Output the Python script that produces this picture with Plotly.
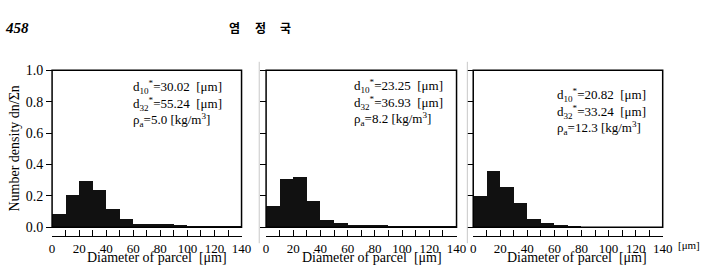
import plotly.graph_objects as go

W, H = 710, 272

bin_centers = [5, 15, 25, 35, 45, 55, 65, 75, 85, 95, 105, 115, 125, 135]
density_rho5 = [0.082, 0.204, 0.292, 0.235, 0.112, 0.047, 0.020, 0.018, 0.015, 0.006, 0.005, 0.005, 0.005, 0.005]
density_rho8 = [0.130, 0.306, 0.318, 0.164, 0.046, 0.022, 0.009, 0.008, 0.006, 0.003, 0.002, 0.001, 0.001, 0.001]
density_rho12 = [0.196, 0.356, 0.252, 0.150, 0.052, 0.022, 0.008, 0.002, 0.0, 0.0, 0.0, 0.0, 0.0, 0.0]

x_tickvals = [0, 20, 40, 60, 80, 100, 120, 140]
x_ticktext = ["0", "20", "40", "60", "80", "100", "120", "140"]
y_tickvals = [0.0, 0.2, 0.4, 0.6, 0.8, 1.0]
y_ticktext = ["0.0", "0.2", "0.4", "0.6", "0.8", "1.0"]

info_lines = [
    ["d<sub>10</sub><sup>*</sup>=30.02  [μm]", "d<sub>32</sub><sup>*</sup>=55.24  [μm]", "ρ<sub>a</sub>=5.0 [kg/m<sup>3</sup>]"],
    ["d<sub>10</sub><sup>*</sup>=23.25  [μm]", "d<sub>32</sub><sup>*</sup>=36.93  [μm]", "ρ<sub>a</sub>=8.2 [kg/m<sup>3</sup>]"],
    ["d<sub>10</sub><sup>*</sup>=20.82  [μm]", "d<sub>32</sub><sup>*</sup>=33.24  [μm]", "ρ<sub>a</sub>=12.3 [kg/m<sup>3</sup>]"],
]
x_title = "Diameter of parcel  [μm]"
y_title = "Number density dn/Σn"
header_page = "458"
header_author = ["염", "정", "국"]

SERIF = "Liberation Serif"

def px(x):
    return x / W

def py(y):
    return 1 - y / H

panels = [
    dict(left=50, right=243, data=density_rho5, text_x=130, text_y=[85, 103, 120], title_x=157),
    dict(left=268, right=462, data=density_rho8, text_x=355, text_y=[84, 102, 119], title_x=376),
    dict(left=479, right=672, data=density_rho12, text_x=562, text_y=[93, 111, 128], title_x=585),
]
top_px, bot_px, xaxis_px = 67, 233, 242

fig = go.Figure()
shapes = []
annotations = []
for i, p in enumerate(panels):
    n = "" if i == 0 else str(i + 1)
    fig.add_trace(go.Bar(
        x=bin_centers, y=p["data"], width=10,
        marker=dict(color="#111111", line=dict(width=0)),
        xaxis="x" + n, yaxis="y" + n, showlegend=False,
    ))
    fig.update_layout(**{
        "xaxis" + n: dict(
            domain=[px(p["left"]), px(p["right"])], range=[0, 140],
            anchor="free", position=py(xaxis_px),
            showline=True, linecolor="black", linewidth=1.2,
            tickvals=x_tickvals, ticktext=x_ticktext,
            ticks="inside", ticklen=6, tickcolor="black", tickwidth=1,
            minor=dict(dtick=10, tick0=0, ticks="inside", ticklen=6, tickcolor="black", tickwidth=1),
            showgrid=False, zeroline=False, ticklabelstandoff=1,
            tickfont=dict(family=SERIF, size=13, color="black"),
        ),
        "yaxis" + n: dict(
            domain=[py(bot_px), py(top_px)], range=[0, 1.0],
            anchor="free", position=px(p["left"]),
            showline=False,
            tickvals=y_tickvals, ticktext=y_ticktext if i == 0 else [""] * 6,
            ticks="outside", ticklen=6, tickcolor="black", tickwidth=1,
            showgrid=False, zeroline=False,
            tickfont=dict(family=SERIF, size=14, color="black"),
        ),
    })
    shapes.append(dict(type="rect", xref="x" + n + " domain", yref="y" + n + " domain",
                       x0=0, x1=1, y0=0, y1=1, line=dict(color="black", width=1.5)))
    for j, t in enumerate(info_lines[i]):
        annotations.append(dict(text=t, x=px(p["text_x"]), y=py(p["text_y"][j]), xref="paper", yref="paper",
                                xanchor="left", yanchor="middle", showarrow=False,
                                font=dict(family=SERIF, size=13, color="black")))
    annotations.append(dict(text=x_title, x=px(p["title_x"]), y=py(265), xref="paper", yref="paper",
                            xanchor="center", yanchor="middle", showarrow=False, borderpad=0,
                            font=dict(family=SERIF, size=14, color="black")))

annotations.append(dict(text=y_title, x=px(12), y=py(150), xref="paper", yref="paper", textangle=-90,
                        xanchor="center", yanchor="middle", showarrow=False,
                        font=dict(family=SERIF, size=14, color="black")))
annotations.append(dict(text="[μm]", x=px(686), y=py(252), xref="paper", yref="paper",
                        xanchor="left", yanchor="middle", showarrow=False,
                        font=dict(family=SERIF, size=11, color="black")))
annotations.append(dict(text="<b><i>" + header_page + "</i></b>", x=px(0), y=py(22), xref="paper", yref="paper",
                        xanchor="left", yanchor="middle", showarrow=False,
                        font=dict(family=SERIF, size=15, color="black")))
for k, ch in enumerate(header_author):
    annotations.append(dict(text="<b>" + ch + "</b>", x=px(236 + 26 * k), y=py(22), xref="paper", yref="paper",
                            xanchor="center", yanchor="middle", showarrow=False,
                            font=dict(family="Noto Sans CJK KR", size=12, color="black")))

for sx in [261, 473]:
    shapes.append(dict(type="line", xref="paper", yref="paper", x0=px(sx), x1=px(sx), y0=py(58), y1=py(250),
                       line=dict(color="#c8c8c8", width=1)))

fig.update_layout(
    width=W, height=H, margin=dict(l=0, r=0, t=0, b=0),
    paper_bgcolor="white", plot_bgcolor="white",
    bargap=0, shapes=shapes, annotations=annotations,
)
fig.write_html("out.html")
